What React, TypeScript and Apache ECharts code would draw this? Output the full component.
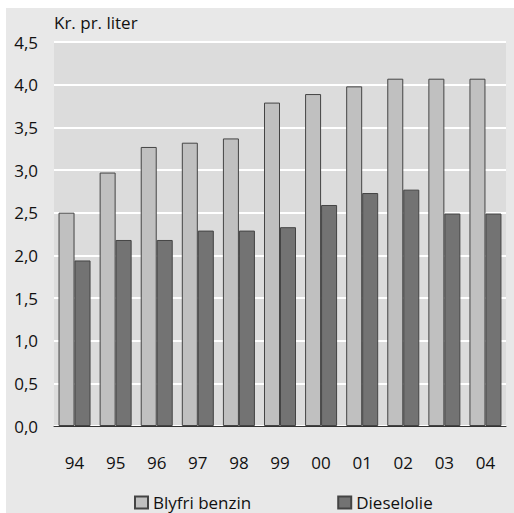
import React, { useEffect, useRef } from "react";
import * as echarts from "echarts";

const categories = ["94", "95", "96", "97", "98", "99", "00", "01", "02", "03", "04"];
const benzin = [2.5, 2.97, 3.27, 3.32, 3.37, 3.79, 3.89, 3.98, 4.07, 4.07, 4.07];
const diesel = [1.94, 2.18, 2.18, 2.29, 2.29, 2.33, 2.59, 2.73, 2.77, 2.49, 2.49];
const seriesNames = ["Blyfri benzin", "Dieselolie"];
const unitLabel = "Kr. pr. liter";

const FONT = "'Open Sans', 'Noto Sans', sans-serif";

export default function App() {
  const ref = useRef<HTMLDivElement>(null);
  useEffect(() => {
    if (!ref.current) return;
    const chart = echarts.init(ref.current, undefined, { renderer: "svg" });
    chart.setOption({
      animation: false,
      backgroundColor: "#ffffff",
      textStyle: { fontFamily: FONT },
      graphic: [
        {
          type: "rect",
          z: -10,
          shape: { x: 6, y: 8, width: 508, height: 505 },
          style: { fill: "#e8e8e8" },
        },
        {
          type: "text",
          left: 54,
          top: 14,
          style: { text: unitLabel, fontSize: 17, fontFamily: FONT, fill: "#111" },
        },
      ],
      grid: {
        left: 54,
        right: 8,
        top: 42,
        bottom: 87,
        show: true,
        backgroundColor: "#dcdcdc",
        borderWidth: 0,
      },
      legend: {
        data: seriesNames,
        left: 129,
        top: 489,
        itemWidth: 13,
        itemHeight: 12,
        itemGap: 86,
        icon: "rect",
        textStyle: { fontSize: 17, color: "#111", fontFamily: FONT },
      },
      xAxis: {
        type: "category",
        data: categories,
        axisLine: { show: true, lineStyle: { color: "#333", width: 1 } },
        axisTick: { show: false },
        axisLabel: { fontSize: 17, color: "#111", margin: 28, fontFamily: FONT },
      },
      yAxis: {
        type: "value",
        min: 0,
        max: 4.5,
        interval: 0.5,
        axisLine: { show: false },
        axisTick: { show: false },
        splitLine: { show: true, lineStyle: { color: "#ffffff", width: 2 } },
        axisLabel: {
          fontSize: 17,
          color: "#111",
          margin: 16,
          fontFamily: FONT,
          formatter: (v: number) => v.toFixed(1).replace(".", ","),
        },
      },
      series: [
        {
          name: seriesNames[0],
          type: "bar",
          data: benzin,
          barWidth: 16,
          barGap: "0%",
          itemStyle: { color: "#c0c0c0", borderColor: "#444", borderWidth: 1 },
        },
        {
          name: seriesNames[1],
          type: "bar",
          data: diesel,
          barWidth: 16,
          barGap: "0%",
          itemStyle: { color: "#737373", borderColor: "#444", borderWidth: 1 },
        },
      ],
    });
    return () => chart.dispose();
  }, []);
  return (
    <div
      ref={ref}
      style={{ position: "fixed", left: 0, top: 0, width: 514, height: 513 }}
    />
  );
}
